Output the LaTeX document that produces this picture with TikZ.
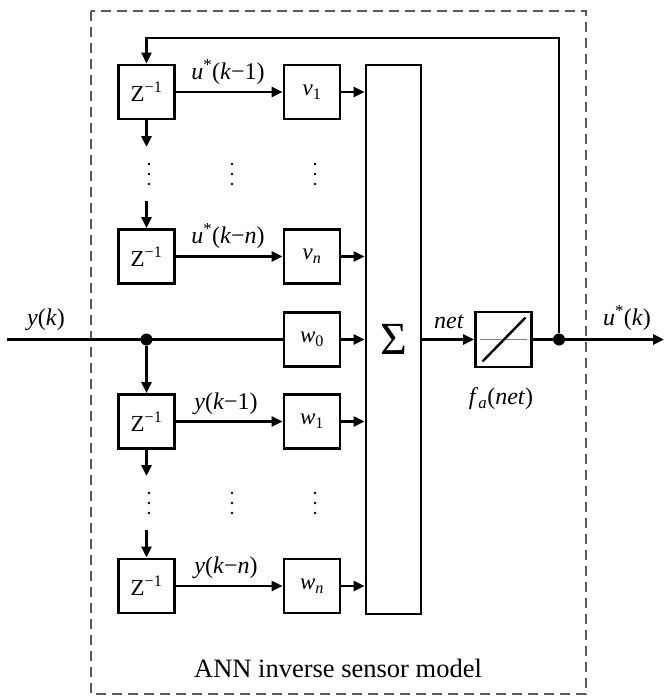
\documentclass[tikz,border=0pt]{standalone}
\usepackage{fontspec}
\setmainfont{Liberation Serif}
\usetikzlibrary{arrows.meta,calc}
\begin{document}
\begin{tikzpicture}[x=1pt,y=-1pt,
  blk/.style={draw,line width=2.8pt,minimum width=56pt,minimum height=54pt,inner sep=0pt,font=\fontsize{23}{26}\selectfont},
  con/.style={line width=2.8pt},
  arr/.style={line width=2.8pt,-{Triangle[length=11pt,width=10pt]}},
  lbl/.style={font=\fontsize{24}{28}\selectfont,inner sep=1pt},
  jdot/.style={circle,fill,inner sep=0pt,minimum size=12pt},
  vdot/.style={circle,fill,inner sep=0pt,minimum size=2.8pt}]
\useasboundingbox (0,0) rectangle (664,697);
% dashed frame
\draw[gray!70!black,line width=1.6pt,dash pattern=on 10pt off 6pt] (91,11) rectangle (586,694);
% blocks
\node[blk] (Z1) at (146.5,92) {Z\textsuperscript{−1}};
\node[blk] (Z2) at (146.5,256.5) {Z\textsuperscript{−1}};
\node[blk] (Z3) at (146.5,421.5) {Z\textsuperscript{−1}};
\node[blk] (Z4) at (146.5,586) {Z\textsuperscript{−1}};
\node[blk] (v1) at (312,92) {\textit{v}\textsubscript{1}};
\node[blk] (vn) at (312,256.5) {\textit{v}\textsubscript{\textit{n}}};
\node[blk] (w0) at (312,339.5) {\textit{w}\textsubscript{0}};
\node[blk] (w1) at (312,421.5) {\textit{w}\textsubscript{1}};
\node[blk] (wn) at (312,586) {\textit{w}\textsubscript{\textit{n}}};
\node[blk,minimum width=55pt,minimum height=549pt,font=\fontsize{46}{48}\selectfont] (sig) at (393.5,339.5) {Σ};
\node[blk,minimum height=55pt] (fa) at (503.5,339.5) {};
\draw[gray,line width=0.8pt] (fa.west) ++(6,0) -- ($(fa.east)+(-6,0)$);
\draw[line width=2.4pt] ($(fa.center)+(-21,22)$) -- ($(fa.center)+(22,-22)$);
% junctions
\node[jdot] (j1) at (146.5,339.5) {};
\node[jdot] (j2) at (559,339.5) {};
\coordinate (in) at (7,339.5);
\coordinate (out) at (664,339.5);
\coordinate (fbtop) at (559,38);
% main signal path
\draw[con] (in) -- (w0.west);
\draw[arr] (j1) -- (Z3.north);
\draw[arr] (sig.east |- w0) -- (fa.west);
\draw[con] (fa.east) -- (j2);
\draw[arr] (j2) -- (out);
\draw[arr] (j2) -- (fbtop) -| (Z1.north);
% delay line arrows
\draw[arr] (Z1.east) -- (v1.west);
\draw[arr] (Z2.east) -- (vn.west);
\draw[arr] (Z3.east) -- (w1.west);
\draw[arr] (Z4.east) -- (wn.west);
\foreach \b in {v1,vn,w0,w1,wn}{\draw[arr] (\b.east) -- (\b.east -| sig.west);}
% vertical arrows between delays
\coordinate (d1) at (146.5,147);
\coordinate (d2) at (146.5,201);
\coordinate (d3) at (146.5,476);
\coordinate (d4) at (146.5,530);
\draw[arr] (Z1.south) -- (d1);
\draw[arr] (d2) -- (Z2.north);
\draw[arr] (Z3.south) -- (d3);
\draw[arr] (d4) -- (Z4.north);
% vertical ellipses
\foreach \x in {149,232,315}{
  \foreach \y in {164,174,184,493,503,513}{\node[vdot] at (\x,\y) {};}
}
% labels
\node[lbl,anchor=south] at (228,86) {\textit{u}\textsuperscript{*}(\textit{k}−1)};
\node[lbl,anchor=south] at (228,250) {\textit{u}\textsuperscript{*}(\textit{k}−\textit{n})};
\node[lbl,anchor=south] at (226,416) {\textit{y}(\textit{k}−1)};
\node[lbl,anchor=south] at (226,580) {\textit{y}(\textit{k}−\textit{n})};
\node[lbl,anchor=south] at (46,332) {\textit{y}(\textit{k})};
\node[lbl,anchor=south] at (449,330) {\textit{net}};
\node[lbl,anchor=south] at (627,332) {\textit{u}\textsuperscript{*}(\textit{k})};
\node[lbl] at (501,399) {\textit{f}\textsubscript{\textit{a}}(\textit{net})};
\node[lbl,font=\fontsize{26.5}{30}\selectfont] at (338,668) {ANN inverse sensor model};
\end{tikzpicture}
\end{document}
